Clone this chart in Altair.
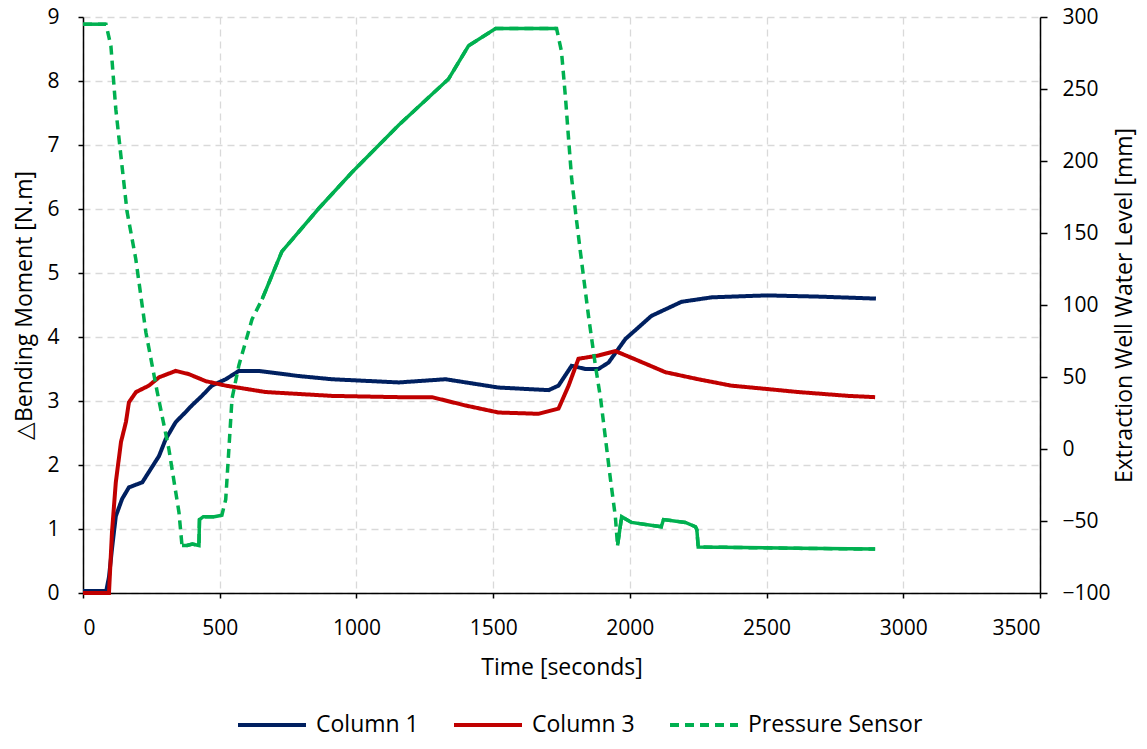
import altair as alt
import pandas as pd

# ---------------- data ----------------
SERIES = ["Column 1", "Column 3", "Pressure Sensor"]
COLORS = ["#002060", "#C00000", "#00B050"]

col1_t = [0, 85, 95, 106, 120, 143, 168, 217, 278, 302, 339, 376, 398, 435, 471, 522,
          570, 643, 789, 910, 1155, 1326, 1520, 1703, 1739, 1787, 1838, 1885, 1922,
          1984, 2079, 2189, 2300, 2500, 2700, 2900]
col1_v = [0.03, 0.03, 0.25, 0.69, 1.2, 1.47, 1.65, 1.73, 2.14, 2.4, 2.67, 2.83, 2.93,
          3.08, 3.24, 3.34, 3.47, 3.47, 3.39, 3.34, 3.29, 3.34, 3.21, 3.17, 3.24, 3.55,
          3.5, 3.5, 3.6, 3.97, 4.33, 4.55, 4.62, 4.65, 4.63, 4.6]

col3_t = [0, 95, 106, 120, 139, 157, 168, 194, 241, 278, 339, 387, 449, 522, 668, 910,
          1155, 1276, 1399, 1520, 1666, 1739, 1776, 1812, 1885, 1947, 2031, 2130, 2250,
          2371, 2495, 2616, 2799, 2897]
col3_v = [0, 0, 0.95, 1.73, 2.36, 2.67, 2.98, 3.14, 3.24, 3.37, 3.47, 3.42, 3.31, 3.24,
          3.14, 3.08, 3.06, 3.06, 2.93, 2.82, 2.8, 2.88, 3.24, 3.66, 3.71, 3.78, 3.63,
          3.45, 3.34, 3.24, 3.19, 3.14, 3.08, 3.06]

ps_t = [0, 84, 102, 120, 143, 161, 193, 230, 271, 314, 351, 362, 380, 400, 424, 426,
        440, 480, 508, 522, 545, 570, 618, 655, 727, 862, 983, 1155, 1337, 1410, 1509,
        1732, 1750, 1765, 1776, 1787, 1801, 1819, 1841, 1849, 1874, 1893, 1911, 1929,
        1947, 1955, 1970, 2006, 2115, 2123, 2203, 2240, 2245, 2250, 2616, 2897]
ps_mm = [295, 295, 280, 236, 196, 165, 132, 81, 40, 0, -44, -67, -67, -66, -67, -49,
         -47, -47, -46, -35, 35, 58, 90, 104, 137, 167, 192, 225, 257, 280, 292, 292,
         276, 243, 215, 188, 165, 137, 104, 92, 58, 35, 7, -21, -47, -67, -47, -51,
         -54, -49, -51, -54, -56, -68, -69, -69.5]

# time windows where the dense sensor record looks continuous
SOLID_SPANS = [(0, 84), (362, 508), (655, 1732), (1955, 2897)]

X_TICKS = list(range(0, 3501, 500))
Y_LEFT_TICKS = list(range(0, 10))
Y_RIGHT_TICKS = list(range(-100, 301, 50))

# ---------------- tables ----------------
bend = pd.concat([
    pd.DataFrame({"t": col1_t, "v": col1_v, "series": SERIES[0]}),
    pd.DataFrame({"t": col3_t, "v": col3_v, "series": SERIES[1]}),
], ignore_index=True)

press = pd.DataFrame({"t": ps_t, "mm": ps_mm, "series": SERIES[2]})
segs = []
for k, (a, b) in enumerate(SOLID_SPANS):
    s = press[(press.t >= a) & (press.t <= b)].copy()
    s["seg"] = k
    segs.append(s)
solid = pd.concat(segs, ignore_index=True)

FONT = "Open Sans"

color_enc = alt.Color("series:N", title=None,
                      scale=alt.Scale(domain=SERIES, range=COLORS))
dash_enc = alt.StrokeDash("series:N", title=None,
                          scale=alt.Scale(domain=SERIES, range=[[1, 0], [1, 0], [9, 6]]))

x_enc = alt.X("t:Q", title="Time [seconds]",
              scale=alt.Scale(domain=[0, 3500], nice=False),
              axis=alt.Axis(values=X_TICKS, format="d", grid=True, labelPadding=19,
                            titlePadding=18, tickSize=5))

left = alt.Chart(bend).mark_line(strokeWidth=4, strokeCap="butt").encode(
    x=x_enc,
    y=alt.Y("v:Q", title="△Bending Moment [N.m]",
            scale=alt.Scale(domain=[0, 9], nice=False),
            axis=alt.Axis(values=Y_LEFT_TICKS, grid=True, labelPadding=19,
                          titlePadding=10, tickSize=5)),
    color=color_enc,
    strokeDash=dash_enc,
)

right_axis = alt.Axis(values=Y_RIGHT_TICKS, grid=False, orient="right",
                      labelPadding=15, titlePadding=26, tickSize=7, titleAngle=270)
right_scale = alt.Scale(domain=[-100, 300], nice=False)

p_dash = alt.Chart(press).mark_line(strokeWidth=3.5, strokeCap="butt").encode(
    x=x_enc,
    y=alt.Y("mm:Q", title="Extraction Well Water Level [mm]", scale=right_scale,
            axis=right_axis),
    color=color_enc,
    strokeDash=dash_enc,
)

p_solid = alt.Chart(solid).mark_line(strokeWidth=3.5, color="#00B050").encode(
    x=x_enc,
    y=alt.Y("mm:Q", title="Extraction Well Water Level [mm]", scale=right_scale,
            axis=right_axis),
    detail="seg:N",
)

chart = alt.layer(left, alt.layer(p_dash, p_solid)).resolve_scale(
    y="independent"
).properties(
    width=957,
    height=576,
    autosize=alt.AutoSizeParams(type="none"),
    padding={"left": 75, "top": 9, "right": 99, "bottom": 148},
).configure_view(
    strokeWidth=0
).configure_axis(
    labelFont=FONT, labelFontSize=21, labelColor="#000000",
    titleFont=FONT, titleFontSize=23, titleFontWeight="normal", titleColor="#000000",
    domainColor="#000000", domainWidth=1.5, tickColor="#000000", tickWidth=1.5,
    gridColor="#D9D9D9", gridDash=[7, 5], gridWidth=1.3,
).configure_legend(
    orient="none", legendX=153, legendY=672, direction="horizontal",
    symbolType="stroke", symbolSize=4624, symbolStrokeWidth=4,
    labelFont=FONT, labelFontSize=23, labelColor="#000000", labelLimit=400,
    labelOffset=8, columnPadding=27, padding=0,
)

chart.save("out.html", embed_options={"renderer": "svg", "actions": False})
